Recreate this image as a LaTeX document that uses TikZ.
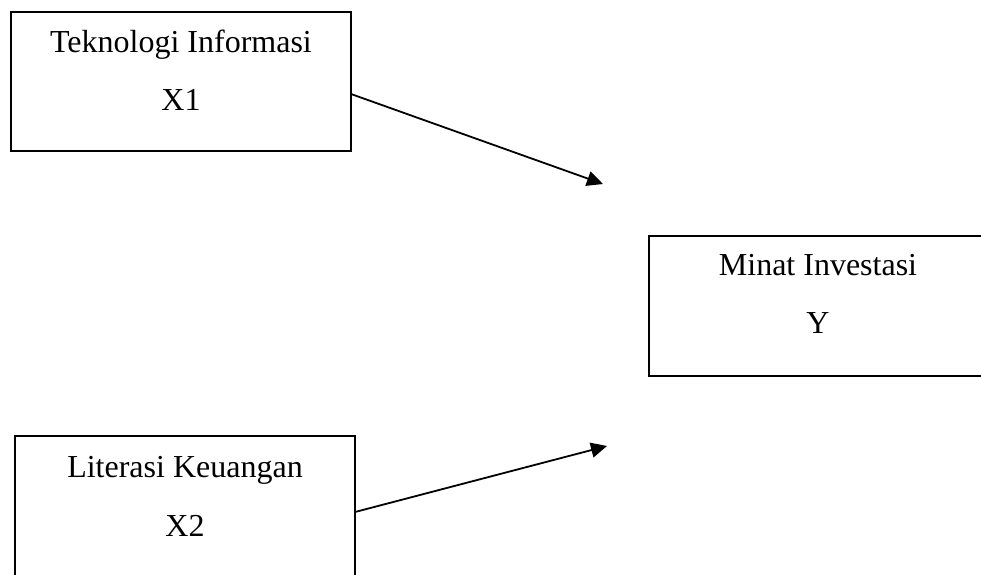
\documentclass[tikz,border=0pt]{standalone}
\usepackage{fontspec}
\setmainfont{Liberation Serif}
\usetikzlibrary{arrows.meta}
\begin{document}
\begin{tikzpicture}[x=1pt,y=-1pt,
  box/.style={draw=black,line width=1.8pt,inner sep=0pt,outer sep=0pt},
  lbl/.style={anchor=base,inner sep=0pt,font=\fontsize{32}{36}\selectfont},
  arr/.style={line width=1.8pt,-{Triangle[length=16pt,width=15pt]}}]
\useasboundingbox (0,0) rectangle (981,574);
\clip (0,0) rectangle (981,574);
% boxes
\node[box,minimum width=340pt,minimum height=139pt] (b1) at (181,81.5) {};
\node[box,minimum width=360pt,minimum height=140pt] (b2) at (829,306) {};
\node[box,minimum width=340pt,minimum height=160pt] (b3) at (185,516) {};
% texts
\node[lbl] (l1a) at (181,52) {Teknologi Informasi};
\node[lbl] (l1b) at (181,110) {X1};
\node[lbl] (l2a) at (818,275) {Minat Investasi};
\node[lbl] (l2b) at (818,333) {Y};
\node[lbl] (l3a) at (185,477) {Literasi Keuangan};
\node[lbl] (l3b) at (185,536) {X2};
% connectors
\coordinate (s1) at (b1.east |- 0,94);
\coordinate (t1) at (603,184);
\coordinate (s2) at (b3.east |- 0,512);
\coordinate (t2) at (607,446);
\draw[arr] (s1) -- (t1);
\draw[arr] (s2) -- (t2);
\end{tikzpicture}
\end{document}
